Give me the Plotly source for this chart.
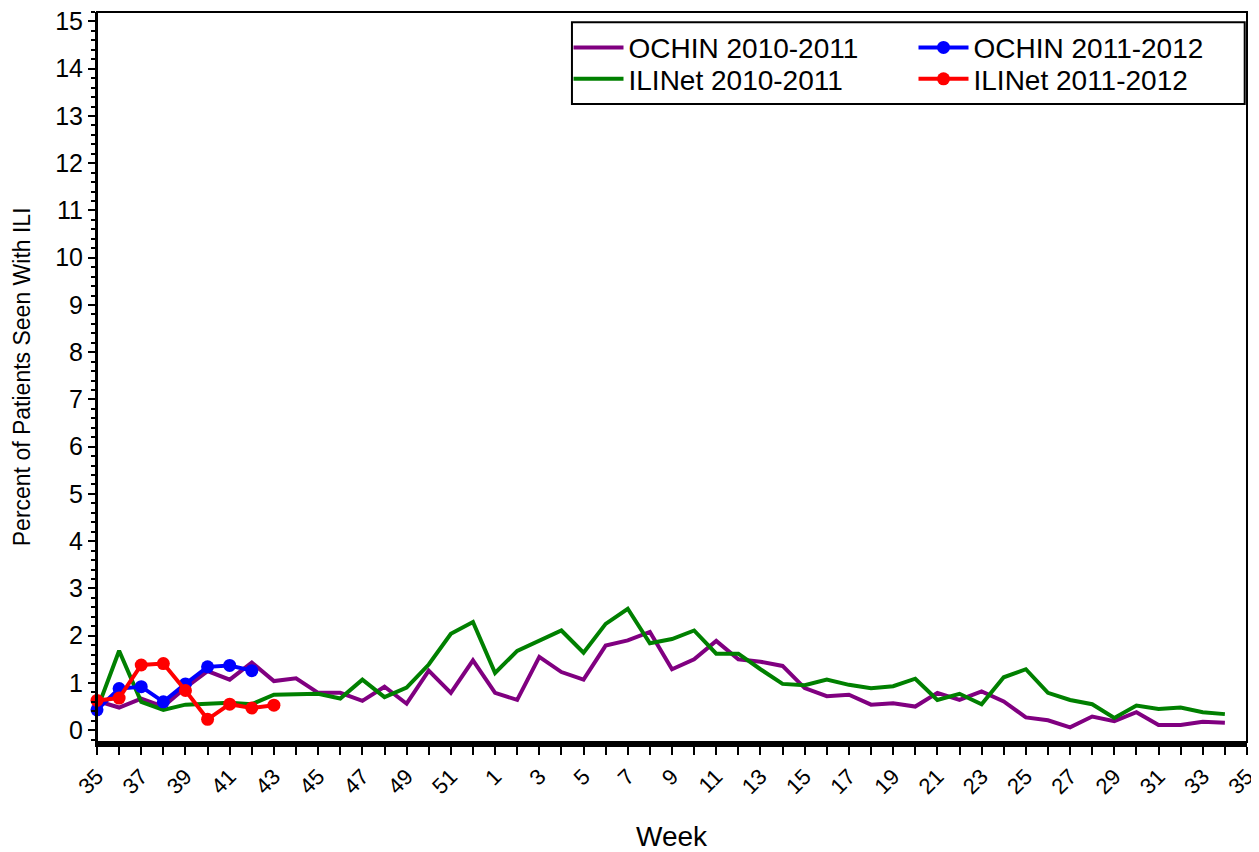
import plotly.graph_objects as go

# week labels: 35..52 of 2010 then 1..35 of 2011
weeks = list(range(35, 53)) + list(range(1, 36))

ochin_1011 = [0.62, 0.48, 0.67, 0.50, 0.90, 1.25, 1.07, 1.43, 1.04, 1.10,
              0.79, 0.79, 0.62, 0.92, 0.56, 1.26, 0.79, 1.48, 0.79, 0.64,
              1.55, 1.23, 1.07, 1.79, 1.90, 2.08, 1.29, 1.50, 1.89, 1.50,
              1.45, 1.36, 0.89, 0.72, 0.75, 0.54, 0.57, 0.50, 0.79, 0.64,
              0.82, 0.61, 0.27, 0.21, 0.06, 0.29, 0.19, 0.38, 0.11, 0.11,
              0.18, 0.16]
ilinet_1011 = [0.43, 1.68, 0.60, 0.43, 0.54, 0.57, 0.58, 0.55, 0.75, 0.76,
               0.77, 0.67, 1.07, 0.70, 0.90, 1.39, 2.04, 2.29, 1.21, 1.68,
               1.89, 2.11, 1.64, 2.25, 2.57, 1.84, 1.93, 2.11, 1.62, 1.62,
               1.29, 0.98, 0.95, 1.07, 0.96, 0.89, 0.93, 1.09, 0.64, 0.77,
               0.55, 1.12, 1.29, 0.79, 0.64, 0.55, 0.26, 0.52, 0.45, 0.48,
               0.38, 0.34]
ochin_1112 = [0.43, 0.88, 0.92, 0.60, 0.98, 1.34, 1.37, 1.26]
ilinet_1112 = [0.63, 0.68, 1.38, 1.41, 0.84, 0.23, 0.55, 0.47, 0.53]

FONT = "Liberation Sans, Arial, sans-serif"
pos = list(range(len(weeks)))

fig = go.Figure()
fig.add_trace(go.Scatter(
    x=pos[:len(ochin_1011)], y=ochin_1011, name="OCHIN 2010-2011",
    mode="lines", line=dict(color="#800080", width=4), legend="legend",
))
fig.add_trace(go.Scatter(
    x=pos[:len(ilinet_1011)], y=ilinet_1011, name="ILINet 2010-2011",
    mode="lines", line=dict(color="#008000", width=4), legend="legend2",
))
fig.add_trace(go.Scatter(
    x=pos[:len(ochin_1112)], y=ochin_1112, name="OCHIN 2011-2012",
    mode="lines+markers", line=dict(color="#0000FF", width=4),
    marker=dict(size=13, color="#0000FF"), cliponaxis=False, legend="legend3",
))
fig.add_trace(go.Scatter(
    x=pos[:len(ilinet_1112)], y=ilinet_1112, name="ILINet 2011-2012",
    mode="lines+markers", line=dict(color="#FF0000", width=4),
    marker=dict(size=13, color="#FF0000"), cliponaxis=False, legend="legend4",
))

ticktext = [str(w) if i % 2 == 0 else "" for i, w in enumerate(weeks)]

leg = dict(xanchor="left", yanchor="middle", bgcolor="rgba(0,0,0,0)",
           borderwidth=0, font=dict(size=28), itemwidth=50)

# page has an 8px body margin, so the figure is sized to fit inside it
fig.update_layout(
    width=1251, height=844,
    margin=dict(l=89, r=12, t=4, b=110),
    plot_bgcolor="white", paper_bgcolor="white",
    font=dict(family=FONT, size=22, color="black"),
    showlegend=True,
    legend=dict(leg, x=0.410, y=0.951),
    legend2=dict(leg, x=0.410, y=0.908),
    legend3=dict(leg, x=0.710, y=0.951),
    legend4=dict(leg, x=0.710, y=0.908),
    xaxis=dict(
        range=[0, 52], tickvals=pos, ticktext=ticktext, tickangle=-45,
        ticks="outside", ticklen=8, tickwidth=2, tickcolor="black",
        showline=True, linecolor="black", linewidth=5,
        showgrid=False, zeroline=False, automargin=False,
        tickfont=dict(size=22), ticklabeloverflow="allow",
    ),
    yaxis=dict(
        range=[-0.25, 15.2], tickvals=list(range(16)),
        ticks="outside", ticklen=7, tickwidth=2, tickcolor="black",
        minor=dict(dtick=0.2, ticks="outside", ticklen=4, tickcolor="black"),
        showline=True, linecolor="black", linewidth=2,
        showgrid=False, zeroline=False, automargin=False,
        tickfont=dict(size=25), ticklabeloverflow="allow",
    ),
    shapes=[
        dict(type="rect", xref="paper", yref="paper", x0=0, x1=1, y0=0, y1=1,
             line=dict(color="black", width=2)),
        # legend frame around both legend columns
        dict(type="rect", xref="paper", yref="paper", x0=0.413, x1=0.998,
             y0=0.874, y1=0.986, line=dict(color="black", width=2)),
    ],
    annotations=[
        dict(text="Week", xref="paper", yref="paper", x=0.5, y=-0.13,
             showarrow=False, font=dict(size=28), xanchor="center", yanchor="middle"),
        dict(text="Percent of Patients Seen With ILI", xref="paper", yref="paper",
             x=-0.065, y=0.5, textangle=-90, showarrow=False, font=dict(size=23),
             xanchor="center", yanchor="middle"),
    ],
)

fig.write_html("out.html")
